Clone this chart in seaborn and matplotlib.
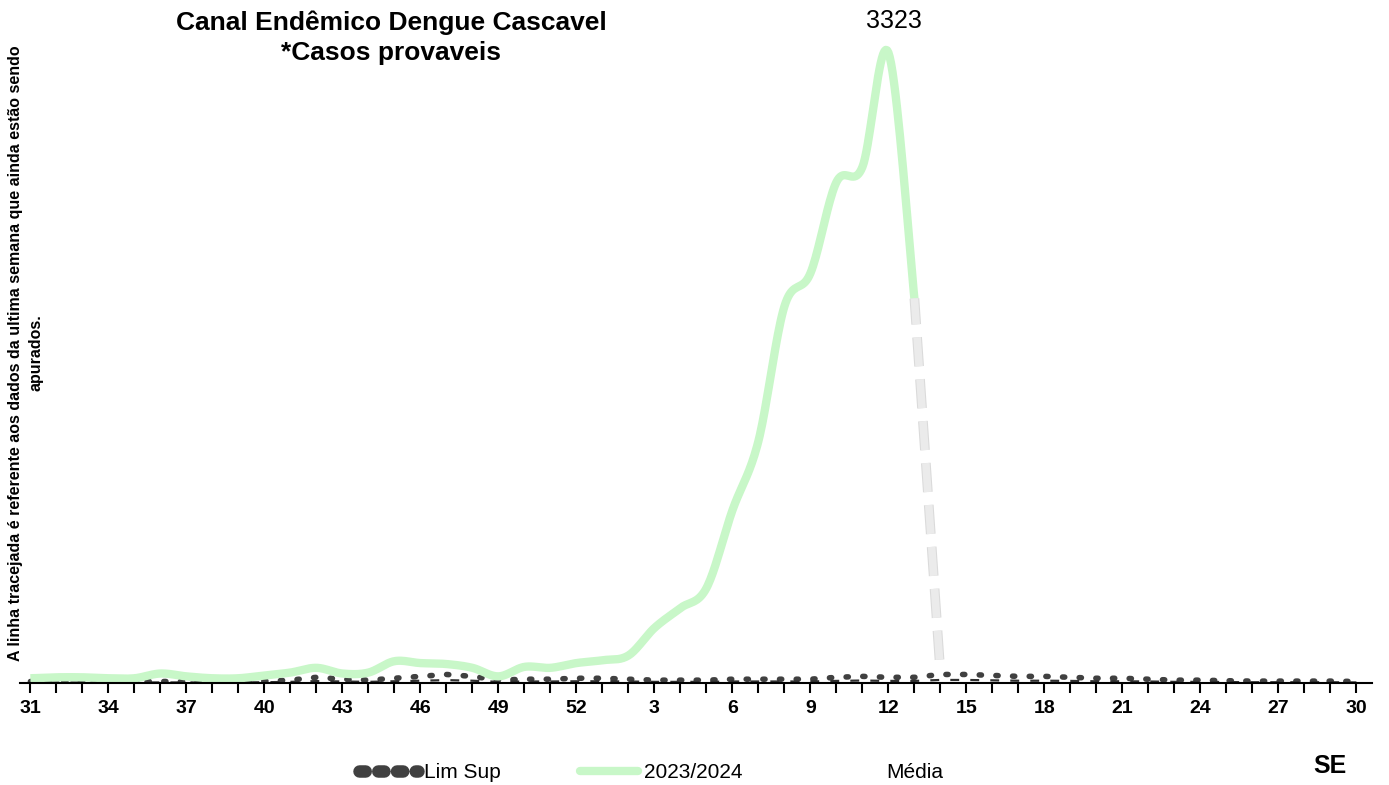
import numpy as np
import pandas as pd
import matplotlib
matplotlib.use("Agg")
import matplotlib.pyplot as plt
import matplotlib.patheffects as pe
import seaborn as sns
from matplotlib.lines import Line2D

sns.set_theme(style="white")
plt.rcParams['font.family'] = ['Liberation Sans', 'DejaVu Sans']
plt.rcParams['text.color'] = 'black'
plt.rcParams['xtick.color'] = 'black'
plt.rcParams['xtick.labelcolor'] = 'black'

# ---- data ----
weeks = list(range(31, 53)) + list(range(1, 31))
casos_2023_2024 = [25, 30, 30, 25, 25, 50, 35, 25, 25, 40, 55, 80, 50, 55, 115, 105,
                   100, 80, 35, 85, 80, 105, 120, 145, 290, 395, 500, 910, 1275, 1985,
                   2160, 2640, 2720, 3323, 2027]
ultima_semana = [2027, 55]          # weeks 13 -> 14 (still being assessed)
lim_sup = [8, 8, 8, 8, 8, 8, 8, 8, 8, 10, 15, 30, 20, 15, 25, 35, 45, 35, 15, 20, 20, 25,
           25, 20, 15, 15, 15, 20, 20, 20, 20, 30, 35, 30, 30, 45, 45, 40, 35, 35, 30, 25,
           25, 20, 15, 15, 12, 10, 10, 10, 10, 8]
media = [3, 3, 3, 3, 3, 3, 3, 3, 3, 4, 6, 10, 8, 6, 9, 12, 15, 12, 6, 8, 8, 9,
         9, 8, 6, 6, 6, 8, 8, 8, 8, 11, 13, 11, 11, 16, 16, 14, 12, 12, 11, 9,
         9, 8, 6, 6, 5, 4, 4, 4, 4, 3]
peak_label = "3323"


def smooth(y, n=20):
    """Catmull-Rom rendering of a series (Excel-like smoothed line)."""
    y = np.asarray(y, float)
    x = np.arange(len(y), dtype=float)
    P = np.column_stack([x, y])
    P = np.vstack([P[0], P, P[-1]])
    out = []
    for i in range(1, len(P) - 2):
        p0, p1, p2, p3 = P[i - 1], P[i], P[i + 1], P[i + 2]
        t = np.linspace(0, 1, n, endpoint=False)[:, None]
        pts = 0.5 * ((2 * p1) + (-p0 + p2) * t + (2 * p0 - 5 * p1 + 4 * p2 - p3) * t ** 2
                     + (-p0 + 3 * p1 - 3 * p2 + p3) * t ** 3)
        out.append(pts)
    out.append(P[-2][None, :])
    return np.vstack(out)


fig = plt.figure(figsize=(13.89, 7.85), dpi=100)
ax = fig.add_axes([20 / 1389, 1 - 683 / 785, 1352 / 1389, (683 - 38) / 785])

idx = np.arange(len(weeks))

# Lim Sup (dotted dark)
df_lim = pd.DataFrame({"x": idx, "y": lim_sup})
sns.lineplot(data=df_lim, x="x", y="y", ax=ax, color="#404040", lw=4,
             linestyle=(0, (0.4, 2.6)), dash_capstyle="round", legend=False)
# Média (dashed)
df_med = pd.DataFrame({"x": idx, "y": media})
sns.lineplot(data=df_med, x="x", y="y", ax=ax, color="#303030", lw=1.6,
             linestyle=(0, (4, 5)), legend=False)

# 2023/2024 smoothed
s = smooth(casos_2023_2024)
df_c = pd.DataFrame({"x": s[:, 0], "y": s[:, 1]})
sns.lineplot(data=df_c, x="x", y="y", ax=ax, color="#C8F7C8", lw=6, sort=False,
             estimator=None, legend=False, solid_capstyle="butt")
# dashed last week
n0 = len(casos_2023_2024) - 1
df_d = pd.DataFrame({"x": [n0, n0 + 1], "y": ultima_semana})
sns.lineplot(data=df_d, x="x", y="y", ax=ax, color="#EBEBEB", lw=5.5,
             linestyle=(0.4, (3.8, 1.7)), legend=False,
             path_effects=[pe.Stroke(linewidth=7, foreground="#DADADA"), pe.Normal()])

ax.annotate(peak_label, xy=(33, 3323), xytext=(4, 14), textcoords="offset points",
            ha="center", va="bottom", fontsize=18, color="black")

ax.set_xlim(-0.4, 51.6)
ax.set_ylim(0, 3400)
ax.set_xlabel("")
ax.set_ylabel("")
ax.set_yticks([])
ax.set_xticks(idx)
ax.set_xticklabels([str(w) if i % 3 == 0 else "" for i, w in enumerate(weeks)],
                   fontsize=14, fontweight="bold")
ax.tick_params(axis="x", direction="out", length=7, width=1.5, color="black",
               bottom=True, pad=5)
for sp in ["top", "left", "right"]:
    ax.spines[sp].set_visible(False)
ax.spines["bottom"].set_color("black")
ax.spines["bottom"].set_linewidth(1.5)
ax.patch.set_alpha(0)

fig.text(391 / 1389, 1 - 38 / 785, "Canal Endêmico Dengue Cascavel\n*Casos provaveis",
         ha="center", va="center", fontsize=19, fontweight="bold", linespacing=1.3)
fig.text(26 / 1389, 1 - 353 / 785,
         "A linha tracejada é referente aos dados da ultima semana que ainda estão sendo\napurados.",
         rotation=90, ha="center", va="center", multialignment="center",
         fontsize=11.5, fontweight="bold", linespacing=1.45)
fig.text(1330 / 1389, 1 - 766 / 785, "SE", ha="center", va="center",
         fontsize=18, fontweight="bold")

handles = [
    Line2D([], [], color="#404040", lw=9, linestyle=(0, (0.5, 1.0)), dash_capstyle="round"),
    Line2D([], [], color="#C8F7C8", lw=6),
    Line2D([], [], color="white", lw=6),
]
fig.legend(handles, ["Lim Sup", "2023/2024", "Média"], loc="lower center",
           bbox_to_anchor=(0.469, -0.02), ncol=3, frameon=False, fontsize=15,
           handlelength=2.8, handletextpad=0.3, columnspacing=3.8)

fig.savefig("out.png", dpi=100, facecolor="white")
